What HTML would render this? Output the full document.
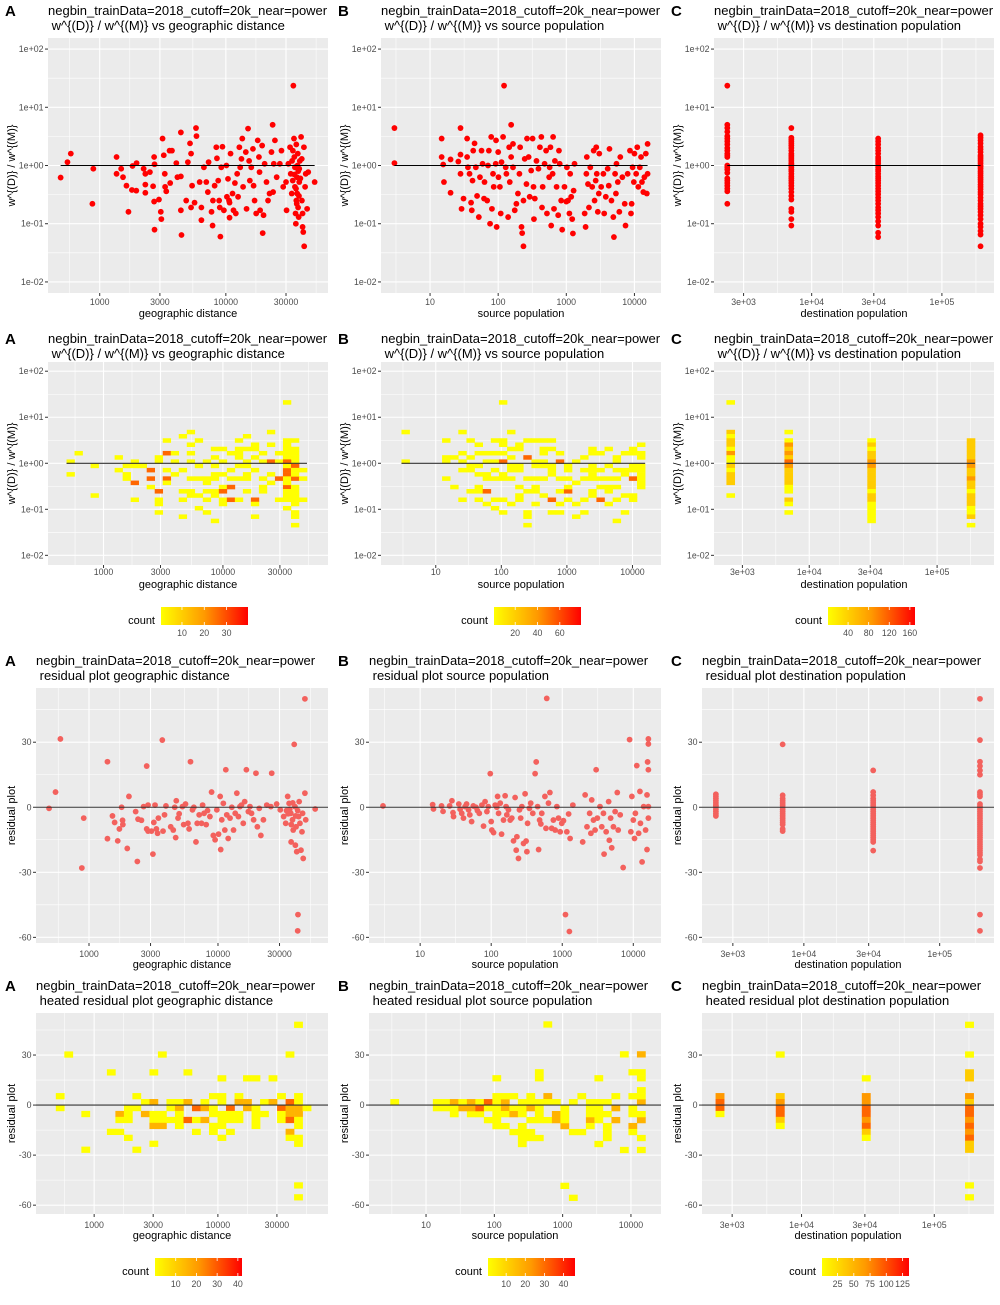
<!DOCTYPE html>
<html><head><meta charset="utf-8"><style>
html,body{margin:0;padding:0;background:#fff;}
svg text{font-family:"Liberation Sans",Arial,sans-serif;white-space:pre;}
</style></head><body>
<svg id="chart" width="1000" height="1300" viewBox="0 0 1000 1300" xmlns="http://www.w3.org/2000/svg"></svg>
<script>
// ---------- DATA ----------
const geoPts = [[490,0.62],[555,1.14],[590,1.6],[875,0.22],[890,0.88],[1360,1.4],[1360,0.72],[1480,0.88],[1530,0.63],[1630,0.45],[1690,0.16],[1800,0.38],[1820,0.98],[1950,0.37],[1960,1.1],[2230,0.88],[2300,0.72],[2300,0.47],[2300,0.34],[2500,0.77],[2650,0.44],[2700,1.4],[2720,1.05],[2700,0.24],[2720,0.079],[2950,0.26],[3050,0.16],[3080,0.12],[3150,2.9],[3220,1.5],[3280,0.72],[3300,0.43],[3370,0.36],[3580,1.8],[3620,0.5],[3740,1.8],[4050,1.1],[4130,0.63],[4400,3.7],[4400,0.65],[4400,0.17],[4450,0.064],[4850,0.25],[5000,1.14],[5200,2.4],[5300,1.6],[5300,0.19],[5400,0.45],[5650,0.23],[5800,4.4],[5850,3.2],[6200,0.52],[6400,0.19],[6400,0.115],[6700,0.93],[7000,0.52],[7200,0.35],[7300,1.14],[7700,0.16],[7850,0.093],[7900,0.25],[8150,0.45],[8400,2.06],[8500,1.33],[8700,0.55],[8850,0.25],[8950,0.19],[9050,0.06],[9200,0.93],[9400,2.1],[9650,0.17],[10100,1.0],[10200,0.29],[10400,0.59],[10600,0.25],[10700,0.23],[10700,0.127],[10900,1.6],[11300,0.33],[11500,0.17],[11800,0.5],[12000,0.15],[12300,0.72],[12500,0.29],[12800,2.06],[13000,0.93],[13300,1.3],[13500,2.9],[13700,0.43],[14400,1.7],[14600,0.18],[15000,4.3],[15300,1.2],[15500,0.55],[15900,0.93],[16400,1.93],[16600,0.45],[16900,0.25],[17400,0.15],[17900,2.7],[18300,1.4],[18500,0.77],[18700,0.17],[19400,2.2],[19600,0.069],[19900,0.14],[20300,1.07],[21000,0.52],[21600,0.25],[22200,0.33],[23000,1.7],[23500,5.0],[23700,0.35],[24000,1.07],[24500,2.7],[25300,0.63],[26800,1.07],[27600,1.8],[28500,0.43],[30000,0.52],[30300,0.17],[31300,1.07],[32300,2.06],[32700,0.72],[33300,0.33],[33900,0.55],[34300,23.5],[34700,2.9],[34900,1.4],[35300,0.93],[35300,0.43],[35700,0.15],[35900,0.1],[36200,0.25],[36200,2.3],[36600,0.63],[36800,0.33],[37200,1.6],[37400,0.19],[37800,0.13],[38200,0.88],[38200,0.52],[38600,1.2],[39500,3.1],[40100,0.25],[40600,0.15],[40600,0.088],[41100,0.072],[41600,2.06],[41800,0.041],[42500,0.43],[43000,0.72],[44100,0.18],[45000,0.77],[50600,0.52],[34000,1.8],[35000,0.7],[36000,0.4],[37000,1.0],[38000,0.3],[39000,0.6],[40000,1.3],[33500,1.2],[36500,0.22],[37500,0.8]];
const srcPts = [[3,4.4],[3,1.1],[14.8,2.9],[14.8,1.4],[15.6,1.04],[16,0.52],[20,0.34],[20,1.27],[26,1.17],[28,4.4],[28,1.54],[28,0.72],[29,0.18],[31,0.27],[35,2.9],[35,1.4],[36,0.93],[38,0.72],[40,0.23],[41,0.17],[42,0.55],[43,1.8],[45,2.4],[47,0.93],[49,0.3],[52,0.13],[54,0.63],[57,1.8],[59,1.07],[62,0.27],[63,0.52],[69,0.25],[71,1.0],[73,1.8],[76,0.1],[79,3.1],[81,0.18],[84,0.72],[86,0.43],[92,1.07],[93,2.7],[95,0.088],[100,1.7],[101,0.63],[106,0.43],[109,0.15],[112,1.14],[118,3.1],[122,23.5],[129,0.93],[132,0.72],[140,0.13],[145,2.06],[148,0.52],[155,1.4],[155,5.0],[165,0.93],[165,2.35],[175,0.17],[185,0.22],[195,0.33],[205,0.72],[210,2.06],[220,0.088],[225,0.069],[235,0.25],[235,0.041],[245,1.3],[260,0.48],[265,2.9],[280,1.4],[290,0.29],[305,0.82],[320,2.9],[330,0.43],[335,0.12],[345,0.27],[365,1.2],[390,0.88],[410,2.06],[430,3.1],[440,0.19],[450,0.43],[480,1.07],[505,1.8],[520,0.15],[560,0.63],[570,0.93],[585,2.06],[600,0.093],[630,0.72],[640,3.1],[660,0.18],[680,1.2],[720,0.43],[760,0.14],[780,1.8],[800,1.07],[840,0.25],[870,0.079],[940,0.43],[1000,0.24],[1020,0.93],[1060,0.25],[1110,0.15],[1140,0.72],[1180,0.29],[1220,0.12],[1250,0.068],[1280,0.37],[1320,1.07],[1860,0.15],[1920,0.088],[1970,0.72],[2000,1.4],[2080,0.48],[2150,0.19],[2250,0.93],[2400,0.43],[2520,1.8],[2600,0.25],[2700,0.55],[2750,2.06],[2800,0.72],[2900,0.16],[3000,0.33],[3050,1.6],[3250,0.43],[3500,0.72],[3600,0.15],[3800,0.29],[4050,0.88],[4200,0.45],[4300,1.93],[4600,0.25],[4900,0.13],[5000,0.059],[5200,0.72],[5350,0.33],[5450,1.07],[5700,0.52],[6000,0.16],[6200,1.4],[6650,0.63],[7200,0.22],[7400,0.093],[7950,0.72],[8600,1.8],[8900,0.15],[9100,0.22],[9400,0.93],[9800,0.52],[10000,1.6],[10600,0.72],[11000,2.06],[11400,0.43],[12000,0.93],[12500,1.4],[12900,0.52],[13500,0.35],[14000,0.63],[14700,1.6],[15200,0.33],[15600,2.35],[15600,0.72]];
const dstCols = [2250, 6980, 32400, 198000];
const dstRatio = [
 [23.5,5.0,4.4,3.8,3.2,2.9,2.6,2.3,2.0,1.8,1.6,1.5,1.4,1.0,0.93,0.85,0.75,0.6,0.55,0.5,0.45,0.4,0.36,0.22],
 [4.4,3.0,2.8,2.6,2.4,2.2,2.0,1.8,1.6,1.5,1.4,1.3,1.2,1.1,1.05,1.0,0.93,0.85,0.8,0.72,0.65,0.6,0.55,0.5,0.45,0.4,0.35,0.3,0.26,0.18,0.16,0.12,0.093],
 [2.9,2.6,2.3,2.0,1.8,1.6,1.4,1.3,1.2,1.1,1.0,0.93,0.85,0.8,0.72,0.65,0.6,0.55,0.5,0.45,0.4,0.36,0.32,0.28,0.25,0.22,0.19,0.17,0.15,0.13,0.11,0.093,0.07,0.059],
 [3.3,3.0,2.7,2.4,2.1,1.9,1.7,1.5,1.4,1.3,1.2,1.1,1.0,0.95,0.88,0.8,0.74,0.68,0.62,0.57,0.52,0.47,0.43,0.39,0.35,0.32,0.28,0.25,0.22,0.2,0.18,0.16,0.14,0.12,0.1,0.088,0.075,0.065,0.041]
];
const geoRes = [[490,-0.5],[550,7],[600,31.5],[910,-5],[880,-28],[1390,21],[1390,-14.5],[1520,-4],[1580,-7],[1670,-15.5],[1720,-10],[1790,0],[1820,-6],[1830,-8],[1980,-19],[2040,5],[2300,-2],[2370,-25],[2400,-5.5],[2550,-6],[2650,0.3],[2800,19],[2800,-10],[2870,-11],[2870,1],[3050,-11],[3130,-21.6],[3180,-7],[3250,1],[3330,-10],[3400,-12],[3450,-5],[3700,31],[3750,-11],[3850,-3.5],[3950,0.6],[4300,-9],[4500,-10.5],[4620,0],[4700,-14],[4750,3],[4900,-5],[5000,-3],[5300,0.3],[5420,-8],[5600,1.5],[5850,-7.4],[5970,-10],[6120,21],[6340,-1.2],[6500,0],[6750,-16],[6900,-7.4],[7150,-3.5],[7450,-7.4],[7600,1],[7800,-2.8],[8100,-8],[8300,-1.5],[8660,-4.3],[8920,7],[9200,-13],[9500,-15],[9800,-1.2],[10100,-12.4],[10400,5],[10500,-19.5],[10700,-5.8],[11000,1.8],[11300,-10.5],[11500,17.3],[11700,-3.5],[12000,-14.4],[12400,-5],[12800,0],[13200,-10.5],[13600,-2.8],[14000,6.5],[14400,-4.3],[14800,0.3],[15200,1],[15700,-7.4],[16100,2.6],[16600,17.3],[17200,-2],[17700,0.3],[18200,-2.8],[18900,-5.8],[19700,15.7],[20200,-9],[20900,-0.5],[21500,-13],[22500,-5.8],[23900,1],[25700,0.3],[26100,15.7],[28500,1.5],[30400,-1.2],[32300,-4.3],[33500,-7.4],[34700,5],[35600,1.8],[36700,-2.8],[36900,-16],[37800,-5.8],[38300,-10.5],[39000,29],[39500,0.3],[39800,-17.5],[40300,-9],[40800,-20.5],[41500,-1.5],[41700,-49.5],[41500,-57],[42200,-4.3],[42600,2.6],[43200,-7.4],[44000,-19.8],[44800,-11.3],[45300,-2.8],[45800,-23.6],[47200,50],[47200,6.5],[47900,-5.8],[56700,-0.8],[35000,-3],[36000,-1],[37000,-8],[38000,2],[40000,-4],[34000,-1.5]];
const srcRes = [[3,0.6],[15,1.2],[15.4,-0.8],[20,0.6],[21,-1.9],[26,0.6],[28,3],[29,-2.5],[29.5,-4.3],[35,1.5],[36.5,-0.9],[38.5,-2.8],[40.7,-5],[43,0.3],[45,1.5],[48,-1.2],[50,-3.5],[53,-6.6],[56,0.6],[61,0],[64,-1.5],[68,-2.8],[74,1],[78,-8.7],[82,2.6],[87,-2],[91,0.3],[97,15.5],[100,-6.6],[102,-10.5],[108,-11.7],[114,1],[120,0],[123,5],[127,-2.8],[134,1.9],[140,-12.4],[149,-5.9],[157,5.3],[162,0.3],[166,-3.5],[175,-1.2],[185,-5.9],[195,-5],[206,-15.5],[217,4.5],[225,-19.8],[230,-13.6],[242,-23.6],[250,-1.2],[260,-5],[270,0.3],[285,-16.7],[300,6.2],[310,-15.6],[318,-20.5],[325,-7.4],[345,-0.5],[360,1.9],[385,-2.8],[415,15.5],[430,20.9],[450,0.3],[465,-19.5],[480,-5.9],[500,-7.7],[515,-2.8],[570,5],[590,-9.7],[605,50.2],[640,1.9],[670,6.8],[710,-9.7],[750,-5.9],[795,-10.5],[840,0.3],[885,-5],[935,-11.3],[985,-7.4],[1040,-6.2],[1110,-49.5],[1160,-11.3],[1230,-3.1],[1260,-57.3],[1290,-14.4],[1410,1],[1940,-16],[2100,5.7],[2230,-9],[2430,-2.8],[2530,-12],[2600,3.4],[2750,-5.9],[2900,-10.5],[3000,17.3],[3120,-5],[3400,0.3],[3600,-9],[3800,-2.8],[3880,-21.6],[4150,-11.3],[4500,2.6],[4600,-15.2],[4800,-5],[4970,-18.7],[5250,-9],[5550,-2],[5950,6.8],[6130,-10.5],[6540,-3.5],[7200,-27.8],[8870,31.2],[9240,-11.3],[9550,5],[10000,-5.9],[10400,-14.4],[10700,-2.8],[11200,19.2],[11900,-12],[12400,7.3],[12600,-7.4],[13300,-25.2],[14000,0.3],[14900,-10.5],[15600,-19.5],[15600,5.7],[15900,20.9],[16300,31.5],[16300,29.2],[16300,17.3],[16300,-5],[16300,0.3]];
const dstRes = [
 [6,5,4,3,2,1,0.5,0,-1,-2,-3,-4],
 [29,5.5,4,3,2,1,0,-1,-2,-3,-4,-5,-6,-7,-8,-10,-11],
 [17,7,5.5,4,3,2,1,0,-1,-2,-3,-4,-5,-6,-7,-8,-9,-10,-11,-12,-13,-14,-15,-16,-20],
 [50,31,21,19,17,15,7,6,5,1.5,0.5,0,-1,-2,-3,-4,-5,-6,-7,-8,-9,-10,-11,-12,-13,-14,-15,-16,-17,-18,-19,-20,-21,-22,-24,-25,-28,-49.5,-57]
];
const geoTicks = [1000,3000,10000,30000], geoTickLabels = ["1000","3000","10000","30000"];
const srcTicks = [10,100,1000,10000], srcTickLabels = ["10","100","1000","10000"];
const dstTicks = [3000,10000,30000,100000], dstTickLabels = ["3e+03","1e+04","3e+04","1e+05"];
const ratioTicks = [0.01,0.1,1,10,100], ratioTickLabels = ["1e-02","1e-01","1e+00","1e+01","1e+02"];
const resTicks = [-60,-30,0,30], resTickLabels = ["-60","-30","0","30"];
const legendTicksR2 = [[10,20,30],[20,40,60],[40,80,120,160]];
const legendTicksR4 = [[10,20,30,40],[10,20,30,40],[25,50,75,100,125]];
const legendRangeR2 = [[0.6,39.6],[1,79],[1,170]];
const legendRangeR4 = [[0,42],[0.5,46],[1,135]];

// ---------- DRAW ----------
const NS = "http://www.w3.org/2000/svg";
const svg = document.getElementById('chart');
function mk(tag, attrs, parent){ const e=document.createElementNS(NS,tag); for(const k in attrs) e.setAttribute(k, attrs[k]); parent.appendChild(e); return e; }
function lg(v){ return Math.log10(v); }
function flatDst(cols, ys){ const out=[]; cols.forEach((c,i)=>ys[i].forEach(y=>out.push([c,y]))); return out; }
function colorAt(t){ t=Math.max(0,Math.min(1,t)); return 'rgb(255,'+Math.round(255*(1-t))+',0)'; }
function minorsOf(maj, lo, hi){ const m=[]; for(let i=0;i<maj.length-1;i++) m.push((maj[i]+maj[i+1])/2);
  const d0=maj[1]-maj[0], d1=maj[maj.length-1]-maj[maj.length-2];
  m.push(maj[0]-d0/2); m.push(maj[maj.length-1]+d1/2); return m.filter(v=>v>lo&&v<hi); }

const titleL1 = "negbin_trainData=2018_cutoff=20k_near=power";
const colNames = ["geographic distance","source population","destination population"];
const letters = ["A","B","C"];
const xTickSets = [[geoTicks,geoTickLabels],[srcTicks,srcTickLabels],[dstTicks,dstTickLabels]];

const rows = [
 {T:38,B:293,tY:15,tickY:305,axY:317,lefts:[48,381,714],xd:[[2.59,4.81],[0.28,4.39],[3.25,5.40]],yd:[-2.19,2.19],ylog:true,type:'pts',col:'#FF0000',sub:' w^{(D)} / w^{(M)} vs ',yTitle:'w^{(D)} / w^{(M)}',line:'seg',lineCol:'#000'},
 {T:362,B:565,tY:343,tickY:575,axY:588,lefts:[48,381,714],xd:[[2.535,4.88],[0.165,4.435],[3.255,5.445]],yd:[-2.21,2.2],ylog:true,type:'heat',sub:' w^{(D)} / w^{(M)} vs ',yTitle:'w^{(D)} / w^{(M)}',line:'seg',lineCol:'#333',legY:607,legX:[161,494,828],legT:legendTicksR2,legR:legendRangeR2},
 {T:688,B:943,tY:665,tickY:957,axY:968,lefts:[36,369,702],xd:[[2.589,4.853],[0.28,4.39],[3.25,5.40]],yd:[-62.6,55.0],ylog:false,type:'pts',col:'#F3615D',sub:' residual plot ',yTitle:'residual plot',line:'h',lineCol:'#333'},
 {T:1013,B:1214,tY:990,tickY:1228,axY:1239,lefts:[36,369,702],xd:[[2.53,4.89],[0.165,4.44],[3.25,5.45]],yd:[-65.3,55.2],ylog:false,type:'heat',sub:' heated residual plot ',yTitle:'residual plot',line:'h',lineCol:'#333',legY:1258,legX:[155,488,822],legT:legendTicksR4,legR:legendRangeR4}
];
const rowData = [
 [geoPts, srcPts, flatDst(dstCols,dstRatio)],
 [geoPts, srcPts, flatDst(dstCols,dstRatio)],
 [geoRes, srcRes, flatDst(dstCols,dstRes)],
 [geoRes, srcRes, flatDst(dstCols,dstRes)]
];

rows.forEach((rw, ri)=>{
 for(let ci=0; ci<3; ci++){
  const L=rw.lefts[ci], R=[328,661,994][ci], T=rw.T, B=rw.B;
  const xd=rw.xd[ci], yd=rw.yd;
  const px = t => L+(t-xd[0])/(xd[1]-xd[0])*(R-L);
  const py = t => B-(t-yd[0])/(yd[1]-yd[0])*(B-T);
  const ty = v => rw.ylog ? lg(v) : v;
  const g = mk('g',{},svg);
  
  
  const letter = mk('text',{x:ci*333+5,y:rw.tY+1,'font-size':15,'font-weight':'bold',fill:'#000'},g);
  letter.textContent = letters[ci];
  
  
  const t1 = mk('text',{x:L,y:rw.tY,'font-size':13,fill:'#000'},g);
  t1.textContent = titleL1;
  
  
  const t2 = mk('text',{x:L,y:rw.tY+15,'font-size':13,fill:'#000'},g);
  t2.textContent = rw.sub + colNames[ci];
  
  
  const bg = mk('rect',{x:L,y:T,width:R-L,height:B-T,fill:'#EBEBEB'},g);
  
  
  const xMaj = xTickSets[ci][0].map(lg);
  const yMaj = rw.ylog ? ratioTicks.map(lg) : resTicks.slice();
  minorsOf(xMaj,xd[0],xd[1]).forEach(t=>{ const l=mk('line',{x1:px(t),x2:px(t),y1:T,y2:B,stroke:'#fff','stroke-width':0.55},g);   });
  minorsOf(yMaj,yd[0],yd[1]).forEach(t=>{ const l=mk('line',{x1:L,x2:R,y1:py(t),y2:py(t),stroke:'#fff','stroke-width':0.55},g);   });
  xMaj.forEach((t,i)=>{
   const l=mk('line',{x1:px(t),x2:px(t),y1:T,y2:B,stroke:'#fff','stroke-width':1.1},g);
    
   const tk=mk('line',{x1:px(t),x2:px(t),y1:B,y2:B+3,stroke:'#333','stroke-width':1},g);
    
   const tl=mk('text',{x:px(t),y:rw.tickY,'font-size':8.8,fill:'#4D4D4D','text-anchor':'middle'},g);
   tl.textContent = xTickSets[ci][1][i];
    
  });
  const yLabs = rw.ylog ? ratioTickLabels : resTickLabels;
  yMaj.forEach((t,i)=>{
   const l=mk('line',{x1:L,x2:R,y1:py(t),y2:py(t),stroke:'#fff','stroke-width':1.1},g);
    
   const tk=mk('line',{x1:L-3,x2:L,y1:py(t),y2:py(t),stroke:'#333','stroke-width':1},g);
    
   const tl=mk('text',{x:L-4.5,y:py(t)+3,'font-size':8.8,fill:'#4D4D4D','text-anchor':'end'},g);
   tl.textContent = yLabs[i];
    
  });
  const xt=mk('text',{x:(L+R)/2,y:rw.axY,'font-size':11,fill:'#000','text-anchor':'middle'},g);
  xt.textContent = colNames[ci];
   
  const yt=mk('text',{x:0,y:0,'font-size':11,fill:'#000','text-anchor':'middle',transform:'translate('+(ci*333+15)+','+((T+B)/2)+') rotate(-90)'},g);
  yt.textContent = rw.yTitle;
   

  const data = rowData[ri][ci];
  const clip = mk('g',{},g);
  
  
  let xmin=Infinity,xmax=-Infinity;
  data.forEach(p=>{ xmin=Math.min(xmin,lg(p[0])); xmax=Math.max(xmax,lg(p[0])); });
  if(rw.type==='pts'){
   data.forEach(p=>{
    const c=mk('circle',{cx:px(lg(p[0])),cy:py(ty(p[1])),r:2.9,fill:rw.col},clip);
     
   });
  } else {
   let ymin=Infinity,ymax=-Infinity;
   data.forEach(p=>{ ymin=Math.min(ymin,ty(p[1])); ymax=Math.max(ymax,ty(p[1])); });
   const nb=30, bwx=(xmax-xmin)/nb||1, bwy=(ymax-ymin)/nb||1;
   const counts={};
   data.forEach(p=>{ const i=Math.min(nb-1,Math.floor((lg(p[0])-xmin)/bwx)); const j=Math.min(nb-1,Math.floor((ty(p[1])-ymin)/bwy)); const k=i+','+j; counts[k]=(counts[k]||0)+1; });
   let mc=1; for(const k in counts) mc=Math.max(mc,counts[k]);
   for(const k in counts){
    const [i,j]=k.split(',').map(Number);
    const x0=px(xmin+i*bwx), x1=px(xmin+(i+1)*bwx), y0=py(ymin+(j+1)*bwy), y1=py(ymin+j*bwy);
    const r=mk('rect',{x:x0,y:y0,width:x1-x0+0.3,height:y1-y0+0.3,fill:colorAt((counts[k]-1)/Math.max(1,mc-1)*0.6)},clip);
     
   }
  }
  const y0 = py(ty(rw.ylog?1:0));
  const ln = rw.line==='seg' ? mk('line',{x1:px(xmin),x2:px(xmax),y1:y0,y2:y0,stroke:rw.lineCol,'stroke-width':1.1},g)
                             : mk('line',{x1:L,x2:R,y1:y0,y2:y0,stroke:rw.lineCol,'stroke-width':1.1},g);
  
  

  if(rw.type==='heat'){
   const lx=rw.legX[ci], ly=rw.legY, lw=87, lh=18, rg=rw.legR[ci];
   const lgG=mk('g',{},g);
    
   const gid='grad'+ri+ci;
   const defs=mk('defs',{},lgG);
   const gr=mk('linearGradient',{id:gid,x1:0,x2:1,y1:0,y2:0},defs);
   mk('stop',{offset:0,'stop-color':'#FFFF00'},gr);
   mk('stop',{offset:0.5,'stop-color':'#FF9900'},gr);
   mk('stop',{offset:1,'stop-color':'#FF0000'},gr);
   const bar=mk('rect',{x:lx,y:ly,width:lw,height:lh,fill:'url(#'+gid+')'},lgG);
    
   const ct=mk('text',{x:lx-6,y:ly+lh-1,'font-size':11,fill:'#000','text-anchor':'end'},lgG);
   ct.textContent='count';
    
   rw.legT[ci].forEach(v=>{
    const xx=lx+(v-rg[0])/(rg[1]-rg[0])*lw;
    const tk1=mk('line',{x1:xx,x2:xx,y1:ly,y2:ly+3,stroke:'#fff','stroke-width':0.8},lgG);
     
    const tk2=mk('line',{x1:xx,x2:xx,y1:ly+lh-3,y2:ly+lh,stroke:'#fff','stroke-width':0.8},lgG);
     
    const tl=mk('text',{x:xx,y:ly+lh+11,'font-size':8.8,fill:'#4D4D4D','text-anchor':'middle'},lgG);
    tl.textContent=String(v);
     
   });
  }
 }
});
</script>
</body></html>
